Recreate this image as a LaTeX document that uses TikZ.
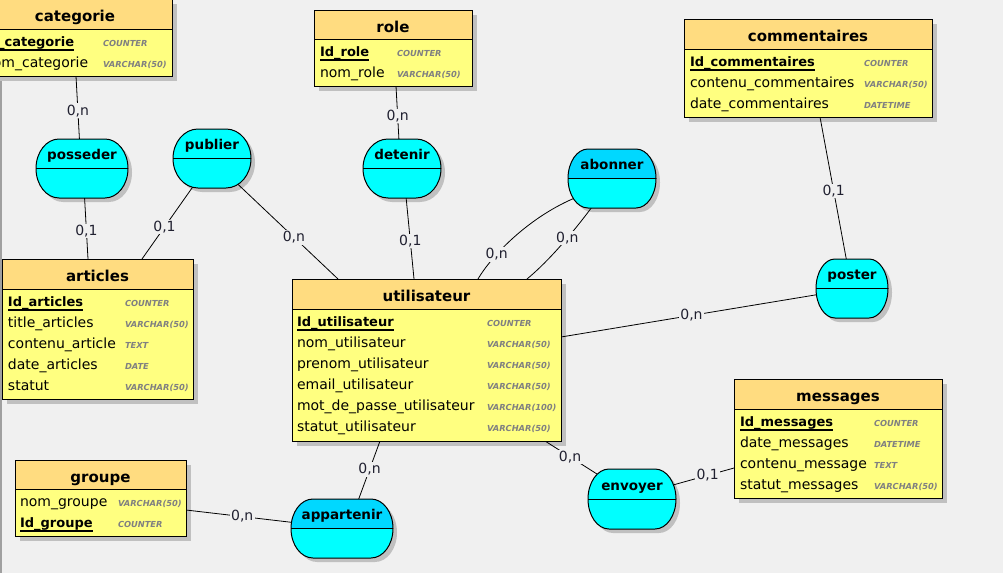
\documentclass[tikz,border=0pt]{standalone}
\usepackage{fontspec}
\setmainfont{DejaVu Sans}
\usetikzlibrary{shapes.geometric}

\definecolor{bgc}{HTML}{F0F0F0}
\definecolor{edgec}{HTML}{A0A0A0}
\definecolor{headc}{HTML}{FFDC80}
\definecolor{bodyc}{HTML}{FFFF80}
\definecolor{shadowc}{HTML}{C0C0C0}
\definecolor{assocc}{HTML}{00FFFF}
\definecolor{assoctop}{HTML}{00D8FF}
\definecolor{typec}{HTML}{808080}
\definecolor{cardc}{HTML}{202030}

\pgfdeclarelayer{back}
\pgfdeclarelayer{links}
\pgfsetlayers{back,links,main}

\tikzset{
  every node/.style={inner sep=0pt, outer sep=0pt},
  enttitle/.style={font=\fontsize{15}{17}\selectfont\bfseries, anchor=base},
  attr/.style={font=\fontsize{14}{16}\selectfont, anchor=base west},
  keyattr/.style={font=\fontsize{13}{16}\selectfont\bfseries, anchor=base west},
  dtype/.style={font=\fontsize{8.3}{10}\selectfont\bfseries\itshape, text=typec, anchor=base west},
  alabel/.style={font=\fontsize{13.5}{16}\selectfont\bfseries, anchor=base},
  card/.style={font=\fontsize{14}{16}\selectfont, text=cardc, fill=bgc, inner sep=1.2pt},
  link/.style={draw=black, line width=0.8pt},
  entbox/.style={rectangle, draw=black, line width=1pt, fill=bodyc},
  assocanchor/.style={ellipse, draw=none},
}

% entity: name, left, top, right, header bottom, bottom, title
\newcommand\entity[7]{%
  \begin{pgfonlayer}{back}
    \fill[shadowc] ({#2+5},{#3+5}) rectangle ({#4+5},{#6+5});
  \end{pgfonlayer}
  \node[entbox, minimum width={#4-(#2)}, minimum height={#6-(#3)}] (#1) at ({(#2+#4)/2},{(#3+#6)/2}) {};
  \fill[headc] (#2,#3) rectangle (#4,#5);
  \draw[line width=1pt] (#2,#3) rectangle (#4,#6);
  \draw[line width=1pt] (#2,#5) -- (#4,#5);
  \node[enttitle] (#1-title) at ({(#2+#4)/2},{#3+22}) {#7};
}
% plain attribute row: name, x, baseline, text, type x, type
\newcommand\attrrow[6]{%
  \node[attr] (#1) at (#2,#3) {#4};
  \node[dtype] (#1-type) at (#5,#3) {#6};
}
% identifier row, underlined
\newcommand\keyrow[6]{%
  \node[keyattr] (#1) at (#2,#3) {#4};
  \draw[line width=1.2pt] ([yshift=-4pt]#1.base west) -- ([yshift=-4pt]#1.base east);
  \node[dtype] (#1-type) at (#5,#3) {#6};
}
% outline of an association: cx, cy, w, h, rx
\newcommand\assocpath[5]{%
  ({#1-#3/2+#5},{#2-#4/2}) -- ({#1+#3/2-#5},{#2-#4/2})
  arc[start angle=-90, end angle=90, x radius=#5, y radius={#4/2}]
  -- ({#1-#3/2+#5},{#2+#4/2})
  arc[start angle=90, end angle=270, x radius=#5, y radius={#4/2}] -- cycle}
% association: name, cx, cy, w, h, rx, label, top colour
\newcommand\assoc[8]{%
  \begin{pgfonlayer}{back}
    \fill[shadowc, shift={(4,4)}] \assocpath{#2}{#3}{#4}{#5}{#6};
  \end{pgfonlayer}
  \node[assocanchor, minimum width=#4, minimum height=#5] (#1) at (#2,#3) {};
  \fill[assocc] \assocpath{#2}{#3}{#4}{#5}{#6};
  \begin{scope}
    \clip ({#2-#4/2-2},{#3-#5/2-2}) rectangle ({#2+#4/2+2},#3);
    \fill[#8] \assocpath{#2}{#3}{#4}{#5}{#6};
  \end{scope}
  \draw[line width=1pt] \assocpath{#2}{#3}{#4}{#5}{#6};
  \draw[line width=1pt] ({#2-#4/2},#3) -- ({#2+#4/2},#3);
  \node[alabel] (#1-label) at (#2,{#3-#5/4+6}) {#7};
}

\begin{document}
\begin{tikzpicture}[x=1pt,y=-1pt]
\useasboundingbox (0,0) rectangle (1003,573);
\begin{pgfonlayer}{back}
  \fill[bgc] (0,0) rectangle (1003,573);
  \fill[edgec] (0,0) rectangle (2,573);
\end{pgfonlayer}

% entities
\entity{categorie}{-22}{-1}{172}{29}{76}{categorie}
\keyrow{catid}{-16}{46}{Id\_categorie}{103}{COUNTER}
\attrrow{catnom}{-16}{67}{nom\_categorie}{103}{VARCHAR(50)}

\entity{role}{314}{10}{472}{39}{86}{role}
\keyrow{roleid}{320}{56}{Id\_role}{397}{COUNTER}
\attrrow{rolenom}{320}{77}{nom\_role}{397}{VARCHAR(50)}

\entity{commentaires}{684}{19}{932}{49}{117}{commentaires}
\keyrow{comid}{690}{66}{Id\_commentaires}{864}{COUNTER}
\attrrow{comcont}{690}{87}{contenu\_commentaires}{864}{VARCHAR(50)}
\attrrow{comdate}{690}{108}{date\_commentaires}{864}{DATETIME}

\entity{articles}{2}{259}{193}{289}{399}{articles}
\keyrow{artid}{8}{306}{Id\_articles}{125}{COUNTER}
\attrrow{arttitle}{8}{327}{title\_articles}{125}{VARCHAR(50)}
\attrrow{artcont}{8}{348}{contenu\_article}{125}{TEXT}
\attrrow{artdate}{8}{369}{date\_articles}{125}{DATE}
\attrrow{artstat}{8}{390}{statut}{125}{VARCHAR(50)}

\entity{utilisateur}{292}{279}{561}{309}{441}{utilisateur}
\keyrow{utid}{297}{326}{Id\_utilisateur}{487}{COUNTER}
\attrrow{utnom}{297}{347}{nom\_utilisateur}{487}{VARCHAR(50)}
\attrrow{utpre}{297}{368}{prenom\_utilisateur}{487}{VARCHAR(50)}
\attrrow{utmail}{297}{389}{email\_utilisateur}{487}{VARCHAR(50)}
\attrrow{utmdp}{297}{410}{mot\_de\_passe\_utilisateur}{487}{VARCHAR(100)}
\attrrow{utstat}{297}{431}{statut\_utilisateur}{487}{VARCHAR(50)}

\entity{messages}{734}{379}{942}{409}{498}{messages}
\keyrow{msgid}{740}{426}{Id\_messages}{874}{COUNTER}
\attrrow{msgdate}{740}{447}{date\_messages}{874}{DATETIME}
\attrrow{msgcont}{740}{468}{contenu\_message}{874}{TEXT}
\attrrow{msgstat}{740}{489}{statut\_messages}{874}{VARCHAR(50)}

\entity{groupe}{15}{460}{186}{489}{536}{groupe}
\attrrow{grpnom}{20}{506}{nom\_groupe}{118}{VARCHAR(50)}
\keyrow{grpid}{20}{527}{Id\_groupe}{118}{COUNTER}

% associations
\assoc{posseder}{82}{168.5}{92}{59}{23}{posseder}{assocc}
\assoc{publier}{212}{158.5}{78}{59}{25}{publier}{assocc}
\assoc{detenir}{402}{168.5}{78}{59}{25}{detenir}{assocc}
\assoc{abonner}{612}{178.5}{88}{59}{20}{abonner}{assoctop}
\assoc{poster}{852}{288.5}{72}{59}{19}{poster}{assocc}
\assoc{envoyer}{632}{499}{88}{60}{21}{envoyer}{assocc}
\assoc{appartenir}{342}{528.5}{102}{59}{22}{appartenir}{assoctop}

% links with cardinalities
\begin{pgfonlayer}{links}
  \draw[link] ([xshift=98pt]categorie.south west) -- node[card, pos=0.55] (k1) {0,n} (posseder.95);
  \draw[link] (posseder.-85) -- node[card, pos=0.54] (k2) {0,1} ([xshift=86pt]articles.north west);
  \draw[link] (publier.236) -- node[card, pos=0.57] (k3) {0,1} ([xshift=140pt]articles.north west);
  \draw[link] (publier.-45) -- node[card, pos=0.57] (k4) {0,n} ([xshift=46pt]utilisateur.north west);
  \draw[link] ([xshift=82pt]role.south west) -- node[card, pos=0.57] (k5) {0,n} (detenir.96);
  \draw[link] (detenir.-82) -- node[card, pos=0.53] (k6) {0,1} ([xshift=122pt]utilisateur.north west);
  \draw[link] (abonner.208) .. controls (530,216) and (492,255) .. node[card, pos=0.7] (k7) {0,n} ([xshift=186pt]utilisateur.north west);
  \draw[link] (abonner.235) .. controls (575,230) and (550,260) .. node[card, pos=0.42] (k8) {0,n} ([xshift=235pt]utilisateur.north west);
  \draw[link] ([xshift=136pt]commentaires.south west) -- node[card, pos=0.52] (k9) {0,1} (poster.101);
  \draw[link] (poster.190) -- node[card, pos=0.49] (k10) {0,n} ([yshift=-58pt]utilisateur.north east);
  \draw[link] ([xshift=253pt]utilisateur.south west) -- node[card, pos=0.44] (k11) {0,n} (envoyer.144);
  \draw[link] (envoyer.19) -- node[card, pos=0.58] (k12) {0,1} ([yshift=-89pt]messages.north west);
  \draw[link] ([yshift=-50pt]groupe.north east) -- node[card, pos=0.53] (k13) {0,n} (appartenir.173);
  \draw[link] (appartenir.60) -- node[card, pos=0.52] (k14) {0,n} ([xshift=88pt]utilisateur.south west);
\end{pgfonlayer}
\end{tikzpicture}
\end{document}
